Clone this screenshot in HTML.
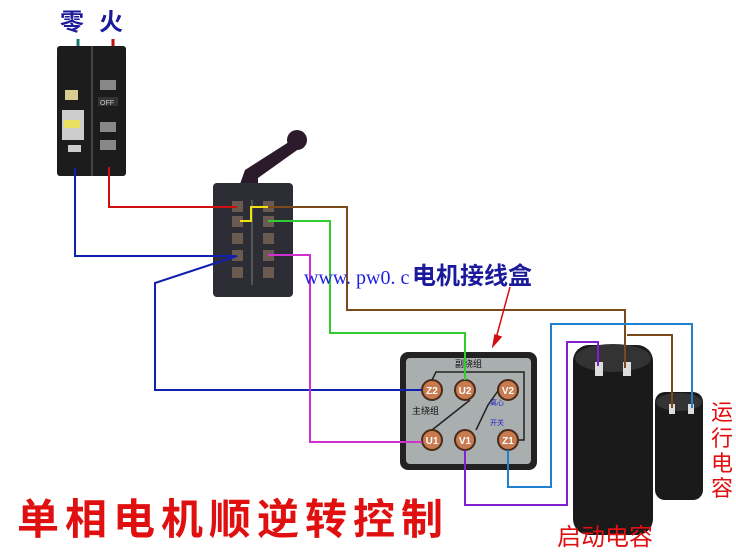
<!DOCTYPE html>
<html><head><meta charset="utf-8"><style>
html,body{margin:0;padding:0;background:#fff;}
svg{display:block;}
.s{font-family:"Liberation Sans","Noto Sans CJK SC",sans-serif;}
</style></head><body>
<svg width="736" height="552" viewBox="0 0 736 552" xmlns="http://www.w3.org/2000/svg">
<rect width="736" height="552" fill="#fff"/>
<g class="s">
<text x="60" y="30" font-size="24" font-weight="bold" fill="#1a1a9a">零</text>
<text x="99" y="30" font-size="24" font-weight="bold" fill="#1a1a9a">火</text>
</g>
<line x1="78" y1="39" x2="78" y2="55" stroke="#167a6a" stroke-width="3"/>
<line x1="113" y1="39" x2="113" y2="55" stroke="#c01010" stroke-width="3"/>
<!-- breaker -->
<rect x="57" y="46" width="69" height="130" fill="#1c1c1c" rx="3"/>
<line x1="92" y1="46" x2="92" y2="176" stroke="#444" stroke-width="2"/>
<rect x="65" y="90" width="13" height="10" fill="#d8cc90"/>
<rect x="62" y="110" width="22" height="30" fill="#ccc"/>
<rect x="64" y="120" width="16" height="8" fill="#e8e060"/>
<rect x="68" y="145" width="13" height="7" fill="#ccc"/>
<rect x="100" y="80" width="16" height="10" fill="#888"/>
<rect x="98" y="97" width="20" height="9" fill="#333"/><text class="s" x="100" y="105" font-size="7" fill="#ccc">OFF</text>
<rect x="100" y="122" width="16" height="10" fill="#888"/>
<rect x="100" y="140" width="16" height="10" fill="#888"/>
<!-- switch lever -->
<path d="M240 184 L245 170 L292 140 L300 148 L258 178 L258 184 Z" fill="#2a1a2a"/>
<circle cx="297" cy="140" r="10" fill="#2a1a2a"/>
<!-- switch box -->
<rect x="213" y="183" width="80" height="114" fill="#2d2d35" rx="4"/>
<g fill="#6a5a50">
<rect x="232" y="201" width="11" height="11"/><rect x="263" y="201" width="11" height="11"/>
<rect x="232" y="216" width="11" height="11"/><rect x="263" y="216" width="11" height="11"/>
<rect x="232" y="233" width="11" height="11"/><rect x="263" y="233" width="11" height="11"/>
<rect x="232" y="250" width="11" height="11"/><rect x="263" y="250" width="11" height="11"/>
<rect x="232" y="267" width="11" height="11"/><rect x="263" y="267" width="11" height="11"/>
</g>
<line x1="252" y1="200" x2="252" y2="285" stroke="#555" stroke-width="2"/>
<!-- motor box -->
<rect x="400" y="352" width="137" height="118" rx="8" fill="#222"/>
<rect x="406" y="358" width="125" height="106" rx="4" fill="#a9aeae"/>
<g class="s">
<text x="455" y="367" font-size="9" fill="#111">副绕组</text>
<text x="412" y="414" font-size="9" fill="#111">主绕组</text>
<text x="490" y="405" font-size="7" fill="#2222cc">离心</text>
<text x="490" y="425" font-size="7" fill="#2222cc">开关</text>
</g>
<path d="M432 380 L436 372 L524 372 L524 440 L518 440 M432 430 L470 400 M476 430 L488 405 L500 388" stroke="#222" fill="none" stroke-width="1.5"/>
<g stroke="#4a2a1a" stroke-width="2" fill="#c87a50">
<circle cx="432" cy="390" r="10"/><circle cx="465" cy="390" r="10"/><circle cx="508" cy="390" r="10"/>
<circle cx="432" cy="440" r="10"/><circle cx="465" cy="440" r="10"/><circle cx="508" cy="440" r="10"/>
</g>
<g class="s" font-size="10" font-weight="bold" fill="#fff" text-anchor="middle">
<text x="432" y="394">Z2</text><text x="465" y="394">U2</text><text x="508" y="394">V2</text>
<text x="432" y="444">U1</text><text x="465" y="444">V1</text><text x="508" y="444">Z1</text>
</g>
<!-- capacitors -->
<rect x="573" y="345" width="80" height="190" rx="16" fill="#1a1a1a"/>
<ellipse cx="613" cy="358" rx="38" ry="14" fill="#333"/>
<rect x="595" y="362" width="8" height="14" fill="#ddd"/><rect x="623" y="362" width="8" height="14" fill="#ddd"/>
<rect x="655" y="392" width="48" height="108" rx="10" fill="#1a1a1a"/>
<ellipse cx="679" cy="402" rx="23" ry="9" fill="#333"/>
<rect x="669" y="404" width="6" height="10" fill="#ddd"/><rect x="688" y="404" width="6" height="10" fill="#ddd"/>
<!-- wires -->
<g fill="none" stroke-width="2">
<path d="M109 167 V207 H237" stroke="#d01010"/>
<path d="M75 168 V256 H237" stroke="#1020b0"/>
<path d="M237 256 L155 283 V390 H422" stroke="#1020b0"/>
<path d="M240 221 H251 V207 H268" stroke="#f0e010"/>
<path d="M268 207 H347 V310 H625 V368" stroke="#7a4a1a"/>
<path d="M627 335 H672 V408" stroke="#7a4a1a"/>
<path d="M268 221 H330 V333 H465 V380" stroke="#30cc30"/>
<path d="M268 255 H310 V442 H422" stroke="#d030d0"/>
<path d="M465 450 V505 H567 V342 H598 V366" stroke="#8020d0"/>
<path d="M508 450 V487 H551 V324 H692 V408" stroke="#2080d0"/>
</g>
<!-- label and arrow -->
<text x="304" y="284" font-size="20" fill="#2020e0" style="font-family:'Liberation Serif',serif">www. pw0. c</text>
<text class="s" x="412" y="284" font-size="24" font-weight="bold" fill="#1a1a9a">电机接线盒</text>
<path d="M510 287 L495 342" stroke="#d01010" stroke-width="1.5"/>
<path d="M495 335 L493 346 L501 337 Z" stroke="#d01010" stroke-width="1.5" fill="#d01010"/>
<!-- title -->
<text class="s" x="17" y="534" font-size="42" font-weight="bold" fill="#e01010" letter-spacing="6">单相电机顺逆转控制</text>
<text class="s" x="557" y="545" font-size="24" fill="#e01010">启动电容</text>
<g class="s" font-size="22" fill="#e01010"><text x="711" y="420">运</text><text x="711" y="446">行</text><text x="711" y="471">电</text><text x="711" y="496">容</text></g>
</svg>
</body></html>
